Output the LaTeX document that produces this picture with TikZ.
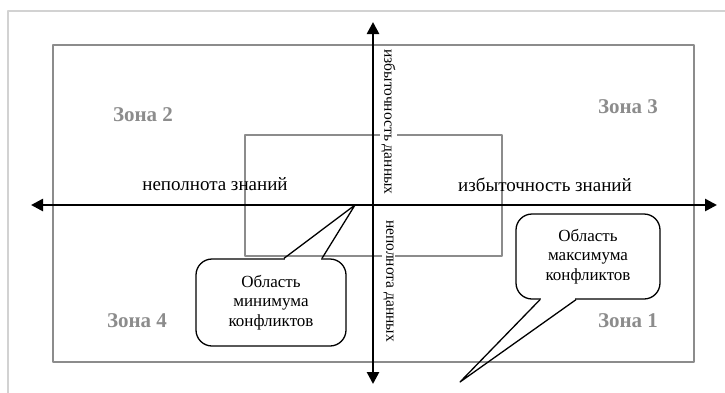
\documentclass[tikz,border=0pt]{standalone}
\usepackage{fontspec}
\setmainfont{Liberation Serif}
\usetikzlibrary{arrows.meta,calc}
\definecolor{zonegray}{HTML}{8C8C8C}
\definecolor{framegray}{HTML}{D2D2D2}

\begin{document}
\begin{tikzpicture}[x=1pt, y=-1pt, line join=round,
    axis/.style={line width=2.6pt, {Triangle[length=12pt,width=12pt]}-{Triangle[length=12pt,width=12pt]}},
    zonerect/.style={draw=zonegray, line width=1.8pt},
    zonelabel/.style={text=zonegray, font=\fontsize{21}{24}\selectfont\bfseries},
    axlabel/.style={font=\fontsize{19}{22}\selectfont},
    vlabel/.style={font=\fontsize{15.5}{18}\selectfont, rotate=-90, fill=white, inner sep=1pt},
    callbox/.style={draw, fill=white, line width=1.3pt, rounded corners=16pt, align=center,
      font=\fontsize{17}{19.5}\selectfont, inner sep=0pt},
    pointer/.style={line width=1.3pt}]
\useasboundingbox (0,0) rectangle (725,392);
% outer frame
\draw[framegray, line width=1.5pt] (8,400) -- (8,11) -- (740,11);
% zones
\draw[zonerect] (53,45) rectangle (694,362);
\draw[zonerect] (245,135) rectangle (502,256);
\node[zonelabel] (z2) at (143,115) {Зона 2};
\node[zonelabel] (z3) at (628,107) {Зона 3};
\node[zonelabel] (z4) at (137,321) {Зона 4};
\node[zonelabel] (z1) at (628,321) {Зона 1};
% axes
\node[vlabel] (vup) at (388.5,122) {избыточность данных};
\node[vlabel] (vdown) at (388.5,281) {неполнота данных};
\coordinate (west) at (31,205);
\coordinate (east) at (717,205);
\coordinate (north) at (373,22);
\coordinate (south) at (373,384);
\draw[axis] (west) -- (east);
\draw[axis] (south) -- (north);
\node[axlabel] (hleft) at (215,184) {неполнота знаний};
\node[axlabel] (hright) at (545,185) {избыточность знаний};
% callouts
\node[callbox, minimum width=150pt, minimum height=87pt] (minbox) at (271,302.5) {Область\\минимума\\конфликтов};
\coordinate (mintip) at (355,205);
\draw[white, line width=2.5pt] ($(minbox.north)+(14,0)$) -- ($(minbox.north)+(50,0)$);
\draw[pointer] ($(minbox.north)+(13,0)$) -- (mintip) -- ($(minbox.north)+(51,0)$);
\node[callbox, minimum width=144pt, minimum height=85pt] (maxbox) at (588,256.5) {Область\\максимума\\конфликтов};
\coordinate (maxtip) at (460,382);
\draw[white, line width=2.5pt] ($(maxbox.south)+(-47,0)$) -- ($(maxbox.south)+(-13,0)$);
\draw[pointer] ($(maxbox.south)+(-48,0)$) -- (maxtip) -- ($(maxbox.south)+(-12,0)$);
\end{tikzpicture}
\end{document}
